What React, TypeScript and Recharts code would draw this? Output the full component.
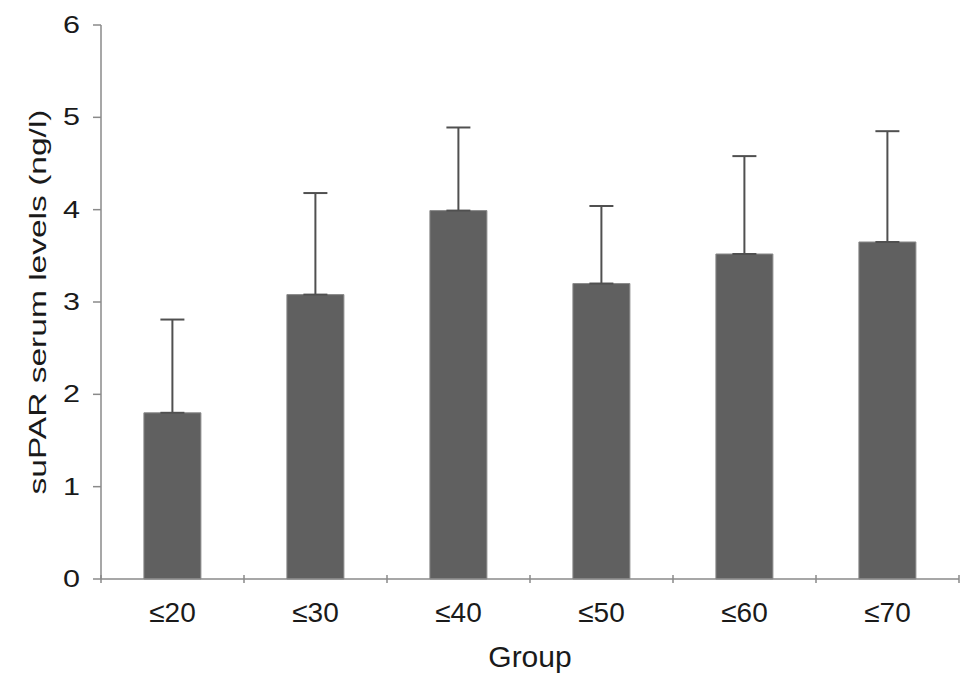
import React from 'react';
import { BarChart, Bar, XAxis, YAxis, ErrorBar, Label } from 'recharts';

const groups = ['≤20', '≤30', '≤40', '≤50', '≤60', '≤70'];
const means = [1.80, 3.08, 3.99, 3.20, 3.52, 3.65];
const sds = [1.01, 1.10, 0.90, 0.84, 1.06, 1.20];
const yTicks = [0, 1, 2, 3, 4, 5, 6];

const data = groups.map((g, i) => ({ group: g, mean: means[i], err: [0, sds[i]] }));

const FONT = '"Liberation Sans", Arial, Helvetica, sans-serif';
const AXIS = '#8a8a8a';

const YTick = (props: any) => {
  const { x, y, payload } = props;
  return (
    <text
      x={x}
      y={y + 8}
      textAnchor="end"
      fontFamily={FONT}
      fontSize={23}
      fill="#1a1a1a"
      textLength={17}
      lengthAdjust="spacingAndGlyphs"
    >
      {payload.value}
    </text>
  );
};

const XTick = (props: any) => {
  const { x, y, payload, index } = props;
  const off = payload.offset || 0;
  const last = index === groups.length - 1;
  return (
    <g>
      <line x1={x - off} x2={x - off} y1={y - 12} y2={y - 4} stroke={AXIS} strokeWidth={1.5} />
      {last && <line x1={x + off} x2={x + off} y1={y - 12} y2={y - 4} stroke={AXIS} strokeWidth={1.5} />}
      <text x={x} y={y + 35} textAnchor="middle" fontFamily={FONT} fontSize={28} fill="#1a1a1a">
        {payload.value}
      </text>
    </g>
  );
};

export default function App() {
  return (
    <div style={{ position: 'absolute', left: 0, top: 0, width: 973, height: 686, background: '#fff' }}>
      <BarChart
        width={973}
        height={686}
        data={data}
        margin={{ top: 25, right: 14, left: 0, bottom: 0 }}
        barCategoryGap="30%"
      >
        <XAxis
          dataKey="group"
          height={107}
          tickLine={false}
          axisLine={{ stroke: AXIS, strokeWidth: 1.5 }}
          tick={<XTick />}
          interval={0}
        >
          <Label
            content={(p: any) => {
              const vb = p.viewBox;
              return (
                <text x={vb.x + vb.width / 2} y={vb.y + 88} textAnchor="middle" fontFamily={FONT} fontSize={30} fill="#1a1a1a">
                  Group
                </text>
              );
            }}
          />
        </XAxis>
        <YAxis
          width={101}
          domain={[0, 6]}
          ticks={yTicks}
          interval={0}
          tickSize={8}
          tickMargin={13}
          tickLine={{ stroke: AXIS, strokeWidth: 1.5 }}
          axisLine={{ stroke: AXIS, strokeWidth: 1.5 }}
          tick={<YTick />}
        >
          <Label
            content={(p: any) => {
              const vb = p.viewBox;
              const cx = vb.x + 46;
              const cy = vb.y + vb.height / 2;
              return (
                <text
                  x={cx}
                  y={cy}
                  textAnchor="middle"
                  fontFamily={FONT}
                  fontSize={24}
                  fill="#1a1a1a"
                  textLength={385}
                  lengthAdjust="spacingAndGlyphs"
                  transform={`rotate(-90, ${cx}, ${cy})`}
                >
                  suPAR serum levels (ng/l)
                </text>
              );
            }}
          />
        </YAxis>
        <Bar dataKey="mean" fill="#606060" stroke="#8a8a8a" strokeWidth={1} isAnimationActive={false}>
          <ErrorBar dataKey="err" direction="y" width={12} stroke="#505050" strokeWidth={2} />
        </Bar>
      </BarChart>
    </div>
  );
}
